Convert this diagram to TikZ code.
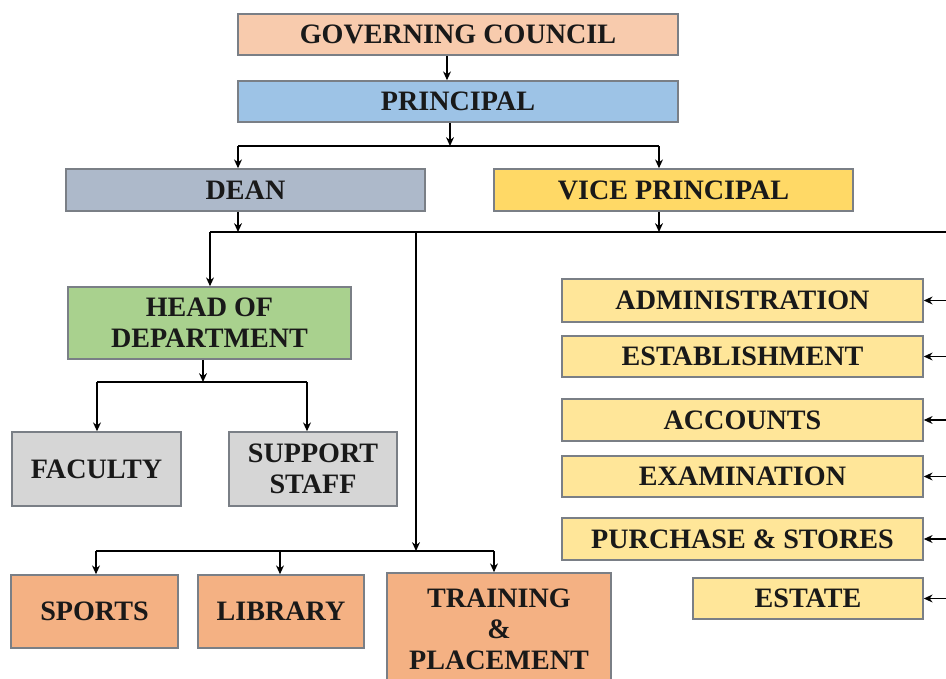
\documentclass[tikz,border=0pt]{standalone}
\usepackage{fontspec}
\setmainfont{Liberation Serif}
\usepackage{tikz}
\usetikzlibrary{arrows.meta}
\definecolor{gcfill}{HTML}{F8CBAD}
\definecolor{prfill}{HTML}{9DC3E6}
\definecolor{deanfill}{HTML}{ADB9CA}
\definecolor{vpfill}{HTML}{FFD966}
\definecolor{hodfill}{HTML}{A9D18E}
\definecolor{stafffill}{HTML}{D6D6D6}
\definecolor{secfill}{HTML}{F4B183}
\definecolor{officefill}{HTML}{FFE699}
\definecolor{boxline}{HTML}{7A7F86}
\tikzset{unit/.style={draw=boxline,line width=0.9pt,align=center,inner sep=0pt,
    font=\fontsize{16}{17.6}\selectfont\bfseries,text=black!90}}
\tikzset{office/.style={unit,fill=officefill,minimum height=0.83cm}}

\begin{document}
\begin{tikzpicture}[>={Stealth[length=5pt,width=4.5pt]},x=0.02cm,y=-0.02cm,line width=1.1pt]
  \clip (0,0) rectangle (946,679);
  \fill[white] (0,0) rectangle (946,679);
  \node[unit,fill=gcfill,minimum width=8.8cm,minimum height=0.82cm] (GC) at (458,34.5) {GOVERNING COUNCIL};
  \node[unit,fill=prfill,minimum width=8.8cm,minimum height=0.82cm] (PR) at (458,101.5) {PRINCIPAL};
  \node[unit,fill=deanfill,minimum width=7.18cm,minimum height=0.84cm] (DEAN) at (245.5,190) {DEAN};
  \node[unit,fill=vpfill,minimum width=7.18cm,minimum height=0.84cm] (VP) at (673.5,190) {VICE PRINCIPAL};
  \node[unit,fill=hodfill,minimum width=5.66cm,minimum height=1.44cm] (HOD) at (209.5,323) {HEAD OF\\DEPARTMENT};
  \node[unit,fill=stafffill,minimum width=3.38cm,minimum height=1.48cm] (FAC) at (96.5,469) {FACULTY};
  \node[unit,fill=stafffill,minimum width=3.36cm,minimum height=1.48cm] (SUP) at (313,469) {SUPPORT\\STAFF};
  \node[unit,fill=secfill,minimum width=3.34cm,minimum height=1.46cm] (SPO) at (94.5,611.5) {SPORTS};
  \node[unit,fill=secfill,minimum width=3.32cm,minimum height=1.46cm] (LIB) at (281,611.5) {LIBRARY};
  \node[unit,fill=secfill,minimum width=4.48cm,minimum height=2.24cm] (TRA) at (499,629) {TRAINING\\\&\\PLACEMENT};

  \node[office,minimum width=7.22cm,minimum height=0.86cm] (ADM) at (742.5,300.5) {ADMINISTRATION};
  \node[office,minimum width=7.22cm,minimum height=0.82cm] (EST) at (742.5,356.5) {ESTABLISHMENT};
  \node[office,minimum width=7.22cm,minimum height=0.84cm] (ACC) at (742.5,420) {ACCOUNTS};
  \node[office,minimum width=7.22cm,minimum height=0.82cm] (EXA) at (742.5,476.5) {EXAMINATION};
  \node[office,minimum width=7.22cm,minimum height=0.84cm] (PUR) at (742.5,539) {PURCHASE \& STORES};
  \node[office,minimum width=4.6cm,minimum height=0.82cm] (ESA) at (808,598.5) {ESTATE};

  \coordinate (pj) at (450,146);
  \coordinate (pjl) at (238,146);
  \coordinate (pjr) at (659,146);
  \coordinate (dj) at (238,232);
  \coordinate (vj) at (659,232);
  \coordinate (hj) at (210,232);
  \coordinate (rj) at (946,232);
  \coordinate (tj) at (416,232);
  \coordinate (tb) at (416,551);
  \coordinate (bl) at (96,551);
  \coordinate (lj) at (280,551);
  \coordinate (br) at (494,551);
  \coordinate (oj) at (203,382);
  \coordinate (fj) at (97,382);
  \coordinate (sj) at (307,382);

  \draw[->] ([xshift=-0.22cm]GC.south) -- ([xshift=-0.22cm]PR.north);
  \draw[->] (PR.south -| pj) -- (pj);
  \draw (pjl) -- (pjr);
  \draw[->] (pjl) -- (pjl |- DEAN.north);
  \draw[->] (pjr) -- (pjr |- VP.north);

  \draw[->] (DEAN.south -| dj) -- (dj);
  \draw[->] (VP.south -| vj) -- (vj);
  \draw (hj) -- (rj);
  \draw[->] (hj) -- (hj |- HOD.north);

  \draw[->] (HOD.south -| oj) -- (oj);
  \draw (fj) -- (sj);
  \draw[->] (fj) -- (fj |- FAC.north);
  \draw[->] (sj) -- (sj |- SUP.north);

  \draw[->] (tj) -- (tb);
  \draw (bl) -- (br);
  \draw[->] (bl) -- (bl |- SPO.north);
  \draw[->] (lj) -- (lj |- LIB.north);
  \draw[->] (br) -- (br |- TRA.north);

  \foreach \n in {ADM,EST,ACC,EXA,PUR,ESA}
    \draw[->] (rj |- \n.east) -- (\n.east);
\end{tikzpicture}
\end{document}
